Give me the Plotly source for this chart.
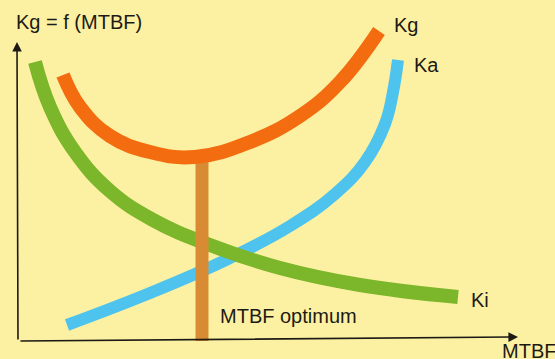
import plotly.graph_objects as go

H = 359
ki_x = [35, 50, 75, 110, 153, 210, 280, 360, 458]
ki_py = [62, 107, 152, 191, 220, 245, 268, 285, 297]

kg_x = [63, 80, 110, 150, 195, 250, 300, 340, 379]
kg_py = [75, 107, 136, 152, 157, 142, 116, 82, 31]

ka_x = [67, 150, 230, 290, 335, 365, 385, 393, 398]
ka_py = [325, 293, 258, 226, 194, 162, 124, 92, 60]

opt_x = [202, 202]
opt_py = [341, 155]

labels = {"Kg": (392, 25), "Ka": (412, 65), "Ki": (469, 300)}

ki_y = [H - v for v in ki_py]
kg_y = [H - v for v in kg_py]
ka_y = [H - v for v in ka_py]
opt_y = [H - v for v in opt_py]

BG = "#fcf1a2"
FONT = "Liberation Sans, Arial, sans-serif"
INK = "#1c1a14"
SM = 1.2

fig = go.Figure()
fig.add_trace(go.Scatter(x=ka_x, y=ka_y, mode="lines",
                         line=dict(color="#4dc3ee", width=12, shape="spline", smoothing=SM)))
fig.add_trace(go.Scatter(x=ki_x, y=ki_y, mode="lines",
                         line=dict(color="#7cb62a", width=14, shape="spline", smoothing=SM)))
fig.add_trace(go.Scatter(x=opt_x, y=opt_y, mode="lines", line=dict(color="#d98b33", width=13)))
fig.add_trace(go.Scatter(x=kg_x, y=kg_y, mode="lines",
                         line=dict(color="#f36c10", width=14, shape="spline", smoothing=SM)))

anns = []
# axes with arrows
anns.append(dict(x=17, y=H - 42, ax=18, ay=H - 341, axref="x", ayref="y",
                 showarrow=True, arrowhead=2, arrowsize=1.2, arrowwidth=1.6, arrowcolor=INK, text="", standoff=0))
anns.append(dict(x=518, y=H - 337, ax=19, ay=H - 341, axref="x", ayref="y",
                 showarrow=True, arrowhead=2, arrowsize=1.2, arrowwidth=1.6, arrowcolor=INK, text="", standoff=0))
anns.append(dict(x=14, y=H - 22, text="Kg = f (MTBF)", showarrow=False, xanchor="left", yanchor="middle"))
for t, (lx, ly) in labels.items():
    anns.append(dict(x=lx, y=H - ly, text=t, showarrow=False, xanchor="left", yanchor="middle"))
anns.append(dict(x=218, y=H - 316, text="MTBF optimum", showarrow=False, xanchor="left", yanchor="middle"))
anns.append(dict(x=500, y=H - 351, text="MTBF", showarrow=False, xanchor="left", yanchor="middle"))
for a in anns:
    a["xref"] = "x"
    a["yref"] = "y"
    a["font"] = dict(family=FONT, size=20, color=INK)

fig.update_layout(
    width=555, height=359,
    margin=dict(l=0, r=0, t=0, b=0),
    paper_bgcolor=BG, plot_bgcolor=BG,
    showlegend=False,
    xaxis=dict(range=[0, 555], visible=False, fixedrange=True),
    yaxis=dict(range=[0, H], visible=False, fixedrange=True),
    annotations=anns,
)
fig.write_html("out.html", config={"displayModeBar": False},
               post_script="document.body.style.margin='0';document.body.style.overflow='hidden';")
